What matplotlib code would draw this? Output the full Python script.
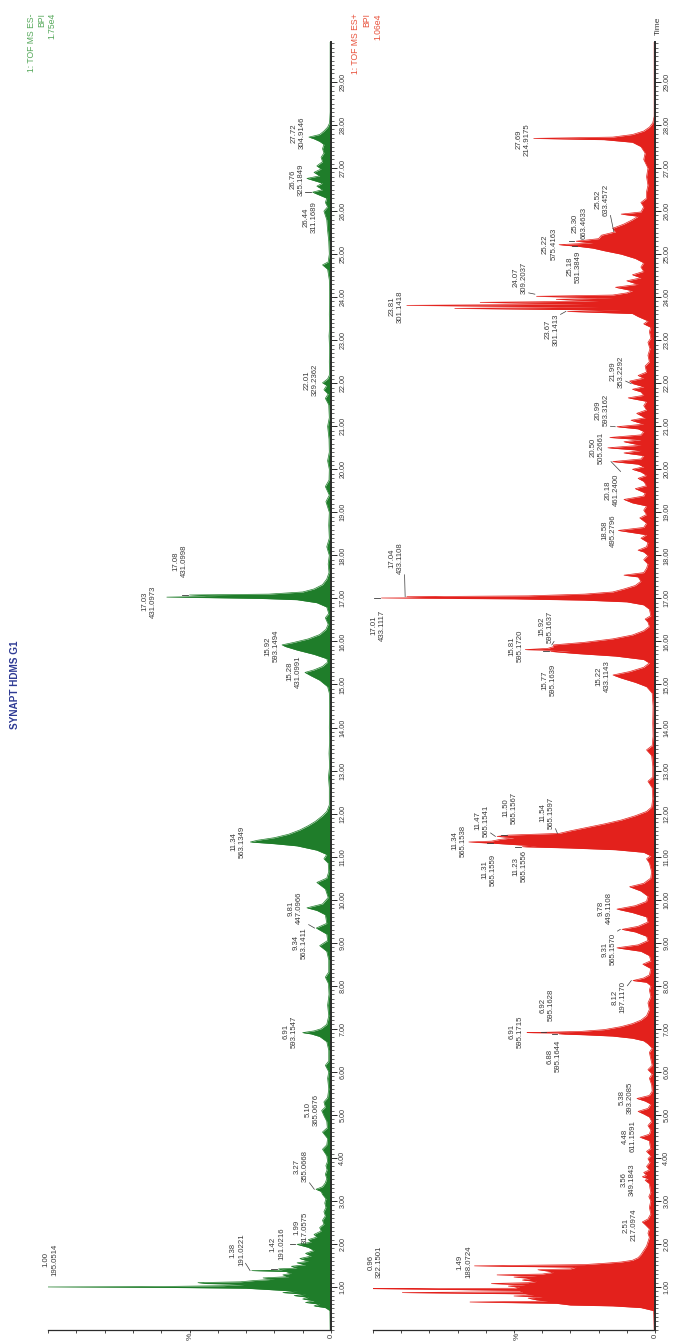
import matplotlib.pyplot as plt
from matplotlib.ticker import FixedLocator, MultipleLocator

plt.rcParams['font.family'] = ['Liberation Sans', 'DejaVu Sans']

# chromatogram vertices (time [min], intensity [%])
green_trace = [
    (0.00, 0.3), (0.45, 0.4), (0.52, 2), (0.56, 6), (0.60, 4), (0.64, 9), (0.68, 6),
    (0.72, 10), (0.76, 8), (0.80, 13), (0.83, 9), (0.87, 17), (0.90, 12), (0.94, 22),
    (0.97, 30), (0.99, 58), (1.00, 100), (1.01, 60), (1.03, 38), (1.06, 30), (1.08, 44),
    (1.10, 47), (1.12, 32), (1.15, 27), (1.18, 20), (1.21, 24), (1.24, 15), (1.28, 17),
    (1.32, 14), (1.36, 16), (1.38, 28), (1.39, 17), (1.42, 18.5), (1.44, 12), (1.48, 14),
    (1.52, 9), (1.56, 12), (1.60, 8), (1.66, 11), (1.72, 7), (1.78, 9), (1.85, 6),
    (1.92, 8), (1.99, 12), (2.04, 7), (2.10, 8), (2.16, 5), (2.22, 6), (2.30, 3.5),
    (2.38, 4), (2.46, 2.5), (2.55, 3), (2.65, 2), (2.75, 2.5), (2.85, 1.8), (2.95, 2.2),
    (3.05, 1.8), (3.15, 3), (3.22, 3.5), (3.27, 5.3), (3.33, 3), (3.42, 2), (3.52, 1.5),
    (3.62, 2), (3.72, 1.4), (3.82, 1.8), (3.92, 1.2), (4.05, 1.5), (4.20, 3), (4.30, 1.5),
    (4.45, 1.2), (4.60, 3), (4.70, 1.3), (4.85, 1.5), (4.98, 2.5), (5.10, 3.3), (5.18, 2),
    (5.30, 2.5), (5.40, 1.2), (5.60, 0.8), (5.85, 1.2), (6.00, 0.8), (6.15, 2), (6.25, 0.8),
    (6.50, 0.8), (6.70, 1.5), (6.82, 4), (6.88, 7), (6.91, 10), (6.95, 6), (7.00, 3.5),
    (7.10, 1.5), (7.30, 0.8), (7.55, 1.2), (7.80, 0.7), (8.05, 0.9), (8.20, 2), (8.32, 0.8),
    (8.60, 0.8), (8.80, 1.5), (8.93, 4), (9.05, 1.2), (9.20, 1.5), (9.34, 5.2), (9.45, 1.5),
    (9.65, 2), (9.75, 5), (9.81, 8.5), (9.90, 3), (10.05, 1), (10.25, 2), (10.40, 5),
    (10.50, 1.5), (10.65, 0.8), (10.85, 1), (10.95, 2.5), (11.05, 1.5), (11.15, 5),
    (11.25, 12), (11.30, 20), (11.34, 28.5), (11.38, 26), (11.44, 20), (11.52, 15),
    (11.62, 11), (11.72, 8), (11.82, 5.5), (11.95, 3), (12.05, 1.5), (12.20, 0.6),
    (12.60, 0.6), (12.85, 0.9), (13.10, 0.5), (13.40, 0.7), (13.70, 0.5), (14.00, 0.6),
    (14.40, 0.5), (14.80, 0.6), (14.95, 1.2), (15.10, 4), (15.20, 7), (15.28, 9.2),
    (15.34, 6), (15.42, 3), (15.52, 1.2), (15.60, 1.5), (15.70, 6), (15.80, 12), (15.88, 16),
    (15.92, 17.3), (15.98, 13), (16.06, 8), (16.16, 4), (16.28, 1.8), (16.40, 1), (16.55, 2),
    (16.65, 0.8), (16.80, 1.5), (16.90, 5), (16.97, 12), (17.00, 25), (17.02, 45),
    (17.03, 58), (17.05, 40), (17.08, 50), (17.10, 22), (17.15, 10), (17.22, 6), (17.32, 3),
    (17.45, 1.5), (17.60, 0.7), (17.80, 1), (18.00, 0.6), (18.20, 1.5), (18.40, 0.6),
    (18.70, 0.8), (19.00, 0.6), (19.25, 1.8), (19.40, 0.6), (19.60, 2), (19.75, 0.7),
    (20.00, 0.6), (20.20, 1.2), (20.40, 0.6), (20.70, 0.7), (21.00, 1.2), (21.20, 0.6),
    (21.50, 0.8), (21.65, 2), (21.75, 1), (21.85, 2.5), (21.95, 1.5), (22.01, 3), (22.10, 1.2),
    (22.20, 0.5), (22.50, 0.6), (22.80, 0.5), (23.10, 0.7), (23.30, 0.5), (23.60, 0.6),
    (24.00, 0.5), (24.40, 0.6), (24.65, 1.2), (24.75, 3), (24.82, 1), (25.00, 0.6),
    (25.30, 0.8), (25.55, 1.2), (25.80, 1.5), (26.00, 2.5), (26.10, 1.2), (26.20, 2),
    (26.30, 1.5), (26.44, 6.5), (26.50, 3), (26.58, 5), (26.65, 3), (26.76, 8.5), (26.82, 4),
    (26.90, 6), (26.98, 3.5), (27.05, 5), (27.15, 3), (27.25, 3.5), (27.35, 2.5), (27.45, 3),
    (27.55, 2.5), (27.62, 4), (27.68, 6), (27.72, 7.8), (27.78, 4), (27.86, 2.5), (27.95, 1.2),
    (28.05, 0.5), (28.30, 0.3), (29.00, 0.3), (30.00, 0.3),
]
red_trace = [
    (0.00, 0.3), (0.45, 0.5), (0.52, 5), (0.56, 15), (0.58, 30), (0.62, 35), (0.65, 65.6),
    (0.67, 38), (0.70, 42), (0.74, 45), (0.77, 40), (0.79, 50), (0.81, 43), (0.84, 46),
    (0.87, 89.6), (0.89, 47), (0.92, 48), (0.95, 83), (0.96, 100), (0.97, 50), (1.00, 48),
    (1.02, 52), (1.05, 46), (1.08, 58), (1.10, 45), (1.13, 42), (1.16, 47), (1.20, 44),
    (1.23, 50), (1.26, 42), (1.28, 56), (1.30, 40), (1.34, 36), (1.37, 38), (1.40, 41.5),
    (1.42, 30), (1.46, 28), (1.49, 64), (1.52, 25), (1.55, 18), (1.58, 12), (1.62, 8),
    (1.68, 6), (1.75, 5), (1.85, 4), (1.95, 3), (2.05, 2.5), (2.15, 2), (2.25, 2.5),
    (2.35, 2), (2.45, 3.5), (2.51, 4.5), (2.58, 2.5), (2.70, 1.5), (2.85, 2), (3.00, 1.5),
    (3.10, 2.2), (3.20, 1.5), (3.30, 1.8), (3.40, 2), (3.48, 3.5), (3.52, 2.5), (3.56, 4.5),
    (3.60, 3), (3.66, 4), (3.72, 2), (3.80, 3), (3.90, 1.8), (3.98, 2.5), (4.05, 1.5),
    (4.15, 3), (4.22, 1.5), (4.30, 1.8), (4.40, 2), (4.48, 5.3), (4.55, 2), (4.65, 1.5),
    (4.75, 2.5), (4.85, 1.2), (4.95, 2), (5.02, 4), (5.08, 6), (5.15, 2.5), (5.25, 1.5),
    (5.32, 3.5), (5.38, 6.4), (5.45, 2), (5.55, 1), (5.70, 1.2), (5.85, 2), (5.95, 1),
    (6.05, 2.5), (6.15, 1), (6.30, 1.5), (6.45, 2), (6.55, 1), (6.65, 2.5), (6.72, 4),
    (6.78, 8), (6.83, 15), (6.86, 25), (6.88, 34), (6.90, 30), (6.91, 45.4), (6.92, 38),
    (6.94, 26), (6.98, 18), (7.05, 12), (7.12, 8), (7.20, 5), (7.30, 3), (7.45, 2),
    (7.60, 2.5), (7.75, 1.5), (7.90, 2), (8.00, 1.5), (8.08, 3), (8.12, 7.8), (8.18, 4),
    (8.25, 2), (8.40, 1.5), (8.50, 4.3), (8.58, 1.5), (8.70, 2), (8.80, 5), (8.88, 13.5),
    (8.95, 6), (9.05, 2.5), (9.15, 3), (9.25, 7), (9.31, 11.7), (9.38, 6), (9.48, 2.5),
    (9.60, 3), (9.70, 8), (9.78, 13.5), (9.86, 7), (9.96, 3), (10.08, 2.5), (10.20, 5),
    (10.30, 9), (10.38, 4), (10.50, 1.5), (10.65, 1.2), (10.85, 2), (10.95, 3), (11.02, 1.5),
    (11.10, 4), (11.16, 14), (11.20, 30), (11.23, 47), (11.25, 42), (11.28, 50), (11.31, 57),
    (11.34, 66), (11.36, 58), (11.40, 55), (11.44, 50), (11.47, 56), (11.50, 52), (11.54, 34),
    (11.60, 30), (11.68, 24), (11.76, 18), (11.85, 12), (11.95, 7), (12.05, 3), (12.15, 1.2),
    (12.35, 0.8), (12.60, 1), (12.75, 2.5), (12.85, 0.8), (13.10, 0.8), (13.35, 1.2),
    (13.48, 3), (13.58, 1), (13.80, 0.7), (14.10, 0.8), (14.50, 0.7), (14.80, 1), (14.95, 3),
    (15.05, 7), (15.15, 12), (15.22, 14.9), (15.30, 9), (15.40, 4), (15.50, 2), (15.58, 4),
    (15.66, 14), (15.72, 28), (15.77, 37), (15.79, 30), (15.81, 46), (15.84, 38), (15.88, 36),
    (15.92, 36), (15.98, 25), (16.06, 15), (16.15, 8), (16.25, 4), (16.35, 2), (16.45, 2.5),
    (16.52, 3.5), (16.60, 1.5), (16.75, 2), (16.85, 4), (16.92, 10), (16.96, 25), (16.99, 50),
    (17.01, 97), (17.02, 70), (17.04, 88), (17.06, 45), (17.10, 25), (17.15, 15), (17.22, 11),
    (17.30, 7), (17.40, 5), (17.50, 6), (17.54, 11), (17.60, 4), (17.70, 3), (17.80, 2.5),
    (17.90, 4), (18.00, 2.5), (18.08, 4), (18.12, 6), (18.20, 3), (18.30, 2.5), (18.40, 5),
    (18.48, 3), (18.58, 13), (18.65, 4), (18.75, 3), (18.87, 5.4), (18.95, 3), (19.05, 4),
    (19.15, 3), (19.22, 8), (19.30, 11), (19.38, 4), (19.45, 3.5), (19.55, 7), (19.62, 3),
    (19.72, 4), (19.79, 6), (19.86, 3), (19.94, 5), (20.00, 8), (20.06, 4), (20.12, 6),
    (20.18, 15), (20.24, 5), (20.32, 4), (20.38, 11), (20.44, 5), (20.50, 16.7), (20.56, 5),
    (20.64, 11), (20.69, 5), (20.74, 16), (20.80, 5), (20.88, 4), (20.94, 6), (20.99, 13.5),
    (21.05, 4), (21.14, 8.5), (21.20, 3.5), (21.30, 6.5), (21.38, 3), (21.48, 4), (21.58, 3),
    (21.66, 9.5), (21.72, 4), (21.80, 5), (21.86, 8), (21.92, 4), (21.99, 7.8), (22.05, 9),
    (22.12, 4), (22.18, 6), (22.26, 3), (22.40, 3.5), (22.50, 2), (22.65, 2.5), (22.80, 1.8),
    (22.95, 2.5), (23.05, 1.5), (23.20, 2), (23.30, 1.5), (23.38, 4), (23.45, 2.5),
    (23.55, 6), (23.62, 8), (23.67, 31), (23.70, 12), (23.74, 71), (23.77, 20), (23.81, 88),
    (23.84, 25), (23.88, 62), (23.91, 20), (23.95, 35), (23.98, 15), (24.02, 42), (24.05, 15),
    (24.10, 10), (24.15, 8), (24.23, 14), (24.30, 6), (24.38, 10), (24.45, 5), (24.52, 8),
    (24.60, 4), (24.70, 5), (24.80, 4), (24.90, 7), (25.00, 12), (25.08, 18), (25.14, 22),
    (25.18, 27), (25.22, 34), (25.26, 22), (25.30, 28), (25.36, 20), (25.44, 19), (25.52, 14),
    (25.60, 15), (25.70, 11), (25.80, 8), (25.88, 6), (25.93, 12), (25.98, 5), (26.10, 4),
    (26.20, 5), (26.30, 3), (26.45, 3), (26.60, 2.5), (26.80, 3), (27.00, 2.5), (27.20, 4),
    (27.35, 3.5), (27.50, 5), (27.60, 8), (27.66, 18), (27.69, 43), (27.72, 15), (27.78, 8),
    (27.86, 4), (27.95, 2), (28.05, 0.8), (28.20, 0.3), (29.00, 0.3), (30.00, 0.3),
]
green_time, green_int = zip(*green_trace)
red_time, red_int = zip(*red_trace)

# peak labels: rt text, m/z text, peak rt, peak %, label rt, label %, leader
green_labels = [
    ('1.00', '195.0514', 1.00, 100, 1.63, 96.5, 'tick'),
    ('1.38', '191.0221', 1.38, 28, 1.86, 30.4, 1.55),
    ('1.42', '191.0216', 1.42, 18.5, 2.00, 16.3, 'tick'),
    ('1.99', '317.0575', 1.99, 12, 2.38, 7.8, 'tick'),
    ('3.27', '355.0668', 3.27, 5.3, 3.80, 7.8, 3.42),
    ('5.10', '365.0676', 5.10, 3.3, 5.12, 3.9, None),
    ('6.91', '593.1547', 6.91, 10, 6.94, 11.7, None),
    ('9.34', '563.1411', 9.34, 5.2, 9.00, 8.1, 9.42),
    ('9.81', '447.0966', 9.81, 8.5, 9.80, 9.9, None),
    ('11.34', '563.1349', 11.34, 28.5, 11.35, 30, None),
    ('15.28', '431.0991', 15.28, 9.2, 15.30, 10.2, None),
    ('15.92', '593.1494', 15.92, 17.3, 15.90, 18.2, None),
    ('17.03', '431.0973', 17.03, 58, 16.93, 61.5, None),
    ('17.08', '431.0998', 17.08, 50, 17.87, 50.5, 'tick'),
    ('22.01', '329.2362', 22.01, 3, 22.08, 4.2, None),
    ('26.44', '311.1689', 26.44, 6.5, 25.86, 4.6, 'tick'),
    ('26.76', '325.1849', 26.76, 8.5, 26.74, 9.2, None),
    ('27.72', '304.9146', 27.72, 7.8, 27.81, 8.8, None),
]
red_labels = [
    ('0.96', '322.1501', 0.96, 100, 1.58, 96.5, 'tick'),
    ('1.49', '188.0724', 1.49, 64, 1.58, 64.8, None),
    ('2.51', '217.0974', 2.51, 4.5, 2.44, 6, None),
    ('3.56', '349.1843', 3.56, 4.5, 3.50, 6.7, None),
    ('4.48', '611.1591', 4.48, 5.3, 4.50, 6.4, None),
    ('5.38', '393.2085', 5.38, 6.4, 5.40, 7.4, None),
    ('6.91', '595.1715', 6.91, 45.4, 6.94, 46.5, None),
    ('6.92', '595.1628', 6.92, 38, 7.55, 35.5, 'tick'),
    ('6.88', '595.1644', 6.88, 34, 6.36, 33, 'tick'),
    ('8.12', '197.1170', 8.12, 7.8, 7.73, 10, 8.00),
    ('9.31', '565.1570', 9.31, 11.7, 8.85, 13.5, 9.27),
    ('9.78', '449.1108', 9.78, 13.5, 9.80, 15, None),
    ('11.34', '565.1538', 11.34, 66, 11.37, 66.8, None),
    ('11.31', '565.1559', 11.31, 57, 10.70, 56, 'tick'),
    ('11.47', '565.1541', 11.47, 56, 11.83, 58.5, 11.55),
    ('11.50', '565.1567', 11.50, 52, 12.14, 48.6, 'tick'),
    ('11.54', '565.1597', 11.54, 34, 12.02, 35.5, 11.65),
    ('11.23', '565.1556', 11.23, 47, 10.78, 45, 'tick'),
    ('15.22', '433.1143', 15.22, 14.9, 15.20, 15.6, None),
    ('15.77', '595.1639', 15.77, 37, 15.10, 34.8, 'tick'),
    ('15.81', '595.1720', 15.81, 46, 15.89, 46.6, None),
    ('15.92', '595.1637', 15.92, 36, 16.35, 36, 16.00),
    ('17.01', '433.1117', 17.01, 97, 16.38, 95.4, 'tick'),
    ('17.04', '433.1108', 17.04, 88, 17.94, 89, 17.55),
    ('18.58', '495.2796', 18.58, 13, 18.58, 13.6, None),
    ('20.18', '461.2400', 20.18, 15, 19.52, 12.4, 19.95),
    ('20.50', '505.2661', 20.50, 16.7, 20.50, 17.7, None),
    ('20.99', '593.3162', 20.99, 13.5, 21.38, 16, 21.00),
    ('21.99', '353.2292', 21.99, 7.8, 22.27, 10.6, 22.05),
    ('23.67', '301.1413', 23.67, 31, 23.25, 33.7, 23.60),
    ('23.81', '301.1418', 23.81, 88, 23.78, 89, None),
    ('24.07', '309.2037', 24.07, 42, 24.46, 45, 24.10),
    ('25.18', '531.3849', 25.18, 27, 24.71, 26, 'tick'),
    ('25.22', '575.4163', 25.22, 34, 25.23, 34.6, None),
    ('25.30', '663.4633', 25.30, 28, 25.72, 24, 'tick'),
    ('25.52', '633.4572', 25.52, 14, 26.27, 16, 25.90),
    ('27.69', '214.9175', 27.69, 43, 27.67, 44, None),
]
time_ticks = list(range(1, 30))

W, H = 676, 1343
fig = plt.figure(figsize=(W / 100, H / 100), dpi=100)

DARK = '#2b2b2b'
TXT = '#3a3a3a'


def add_panel(left, right, top=42, bottom=1330):
    return fig.add_axes([left / W, 1 - bottom / H, (right - left) / W, (bottom - top) / H])


def draw_panel(ax, times, ints, labels, color):
    ax.fill_betweenx(times, 0, ints, color=color, lw=0)
    ax.plot(ints, times, color=color, lw=0.5)
    ax.set_xlim(100, 0)
    ax.set_ylim(0, 29.93)
    for side in ('top', 'left'):
        ax.spines[side].set_visible(False)
    ax.spines['right'].set_linewidth(1.4)
    ax.spines['right'].set_color(DARK)
    ax.spines['bottom'].set_linewidth(0.9)
    ax.spines['bottom'].set_color(DARK)

    ax.yaxis.tick_right()
    ax.yaxis.set_major_locator(FixedLocator(time_ticks))
    ax.yaxis.set_minor_locator(MultipleLocator(0.1))
    ax.set_yticklabels([f'{t:.2f}' for t in time_ticks])
    ax.tick_params(axis='y', which='major', length=4, width=0.7, color=DARK, pad=2,
                   labelsize=5.2, labelcolor=TXT, labelrotation=90)
    ax.tick_params(axis='y', which='minor', length=2, width=0.5, color=DARK)
    for lab in ax.get_yticklabels():
        lab.set_va('center')

    ax.set_xticks(range(0, 101, 10))
    ax.set_xticklabels(['0'] + [''] * 10)
    ax.tick_params(axis='x', length=2.5, width=0.6, color=DARK, pad=0.5,
                   labelsize=5.5, labelcolor=TXT, labelrotation=90)

    for ts, ms, pt, ph, tt, th, lead in labels:
        ax.text(th, tt, f'{ts}\n{ms}', rotation=90, ha='right', va='center',
                multialignment='center', fontsize=5.6, color=TXT, linespacing=1.3)
        if lead == 'tick':
            ax.plot([ph + 0.6, ph + 2.6], [pt, pt], color=TXT, lw=0.6)
        elif lead is not None:
            ax.plot([th - 0.2, ph + 0.6], [lead, pt], color=TXT, lw=0.5)


green_ax = add_panel(48, 331)
red_ax = add_panel(373, 655)
draw_panel(green_ax, green_time, green_int, green_labels, '#1f7d2a')
draw_panel(red_ax, red_time, red_int, red_labels, '#e3211c')

# headers
fig.text(15 / W, 1 - 685 / H, 'SYNAPT HDMS G1', rotation=90, ha='center', va='center',
         fontsize=7.2, fontweight='bold', color='#2e3a94')
for x, s in zip((31, 42, 52), ('1: TOF MS ES-', 'BPI', '1.75e4')):
    fig.text(x / W, 1 - 13 / H, s, rotation=90, ha='center', va='top', fontsize=6.2,
             color='#55a85a')
for x, s in zip((355, 367, 378), ('1: TOF MS ES+', 'BPI', '1.06e4')):
    fig.text(x / W, 1 - 13 / H, s, rotation=90, ha='center', va='top', fontsize=6.2,
             color='#e8523c')
fig.text(658 / W, 1 - 17 / H, 'Time', rotation=90, ha='center', va='top', fontsize=6,
         color=TXT)
for x in (190, 517):
    fig.text(x / W, 1 - 1336 / H, '%', rotation=90, ha='center', va='center', fontsize=6,
             color=TXT)

fig.savefig('out.png', dpi=100)
